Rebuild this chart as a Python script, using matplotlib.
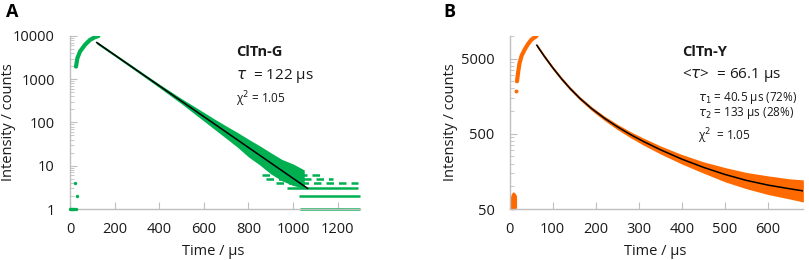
import matplotlib.pyplot as plt
from matplotlib.ticker import FixedLocator, LogLocator, NullFormatter, FuncFormatter

plt.rcParams['font.family'] = ['Open Sans', 'DejaVu Sans']

GREEN = '#00b050'
ORANGE = '#ff6a00'
AXIS = '#bfbfbf'
TEXT = '#1a1a1a'

# ---- panel A : ClTn-G ----
# rising edge (excitation pulse)
rise_t_a = [27, 33, 45, 67, 90, 112, 127]
rise_c_a = [1950, 3030, 4350, 6200, 8100, 9350, 9900]
# decay band, read as upper / lower envelope of the scatter
band_t_a = [120, 200, 300, 400, 500, 600, 650, 700, 750, 800, 850, 900, 950, 1000, 1050]
band_hi_a = [7500, 3900, 1730, 770, 355, 171, 118, 83, 59, 41, 29, 20, 14, 11, 8]
band_lo_a = [6500, 3400, 1480, 640, 270, 108, 68, 43, 27, 16, 10.5, 6.5, 4.5, 3.5, 3]
# integer count rows in the tail
row_c_a = [1, 2, 3, 4, 5, 6]
row_start_a = [1030, 1025, 972, 925, 880, 860]
row_end_a = [1300, 1300, 1290, 1290, 1180, 1120]
# stray points before the pulse
pre_t_a = [0, 5, 10, 15, 20, 25, 22, 30]
pre_c_a = [1, 1, 1, 1, 1, 1, 4, 2]
# single exponential fit
fit_t_a = [120, 1065]
fit_c_a = [7000, 3]

# ---- panel B : ClTn-Y ----
rise_t_b = [17, 20, 23, 28, 35, 42, 50, 57, 62]
rise_c_b = [2490, 3400, 4370, 5500, 6610, 7700, 8850, 9500, 9900]
stray_t_b = [15]
stray_c_b = [1830]
pre_t_b = [1, 4, 8, 12, 16]
pre_lo_b = [52, 49, 49, 50, 52]
pre_hi_b = [70, 80, 85, 82, 75]
fit_t_b = [63, 80, 100, 120, 140, 163, 190, 220, 250, 280, 310, 350, 400, 450, 500, 550, 600, 650, 682]
fit_c_b = [7500, 5400, 3770, 2710, 2010, 1480, 1085, 805, 620, 490, 397, 307, 230, 179, 144, 120, 104, 93, 87]
band_hi_b = [7900, 5700, 3980, 2860, 2120, 1560, 1150, 860, 670, 535, 440, 345, 265, 212, 178, 153, 138, 126, 122]
band_lo_b = [7100, 5100, 3570, 2560, 1900, 1400, 1020, 750, 570, 445, 355, 270, 198, 150, 115, 93, 78, 68, 62]

fig = plt.figure(figsize=(8.09, 2.6), dpi=100)
ax1 = fig.add_axes([0.0865, 0.196, 0.3585, 0.666])
ax2 = fig.add_axes([0.630, 0.196, 0.3625, 0.666])


def style(ax):
    for s in ['top', 'right']:
        ax.spines[s].set_visible(False)
    for s in ['left', 'bottom']:
        ax.spines[s].set_color(AXIS)
        ax.spines[s].set_linewidth(1.0)
    ax.tick_params(which='both', direction='in', color=AXIS, labelcolor=TEXT, labelsize=10.5)
    ax.tick_params(axis='x', which='major', length=5, pad=9)
    ax.tick_params(axis='y', which='major', length=5, pad=11)
    ax.tick_params(axis='y', which='minor', length=3)
    ax.set_xlabel('Time / μs', fontsize=10.5, color=TEXT)
    ax.set_ylabel('Intensity / counts', fontsize=10.5, color=TEXT)
    ax.yaxis.set_major_formatter(FuncFormatter(lambda v, p: f'{v:.0f}'))
    ax.yaxis.set_minor_formatter(NullFormatter())


# panel A
ax1.set_yscale('log')
ax1.fill_between(band_t_a, band_lo_a, band_hi_a, color=GREEN, lw=0, zorder=2)
ax1.plot(rise_t_a, rise_c_a, color=GREEN, lw=3, solid_capstyle='round', zorder=2)
for c, t0, t1 in zip(row_c_a, row_start_a, row_end_a):
    ls = '-' if c <= 3 else (0, (3, 2))
    ax1.hlines(c, t0, t1, color=GREEN, lw=1.8, linestyles=ls, zorder=2, clip_on=False)
ax1.scatter(pre_t_a, pre_c_a, s=6, color=GREEN, lw=0, zorder=3, clip_on=False)
ax1.plot(fit_t_a, fit_c_a, color='black', lw=1.1, zorder=4)
ax1.set_xlim(0, 1300)
ax1.set_ylim(1, 10000)
ax1.xaxis.set_major_locator(FixedLocator([0, 200, 400, 600, 800, 1000, 1200]))
ax1.yaxis.set_major_locator(FixedLocator([1, 10, 100, 1000, 10000]))
ax1.yaxis.set_minor_locator(LogLocator(base=10, subs=range(2, 10)))
style(ax1)
ax1.xaxis.set_label_coords(0.495, -0.20)
ax1.yaxis.set_label_coords(-0.186, 0.5)

fig.text(236 / 809, 1 - 52 / 260, 'ClTn-G', fontsize=10.5, fontweight='bold', color=TEXT, va='center')
fig.text(236 / 809, 1 - 76 / 260, r'$\tau$  = 122 μs', fontsize=11, color=TEXT, va='center')
fig.text(236 / 809, 1 - 99 / 260, 'χ$^2$ = 1.05', fontsize=8.5, color=TEXT, va='center')

# panel B
ax2.set_yscale('log')
ax2.fill_between(fit_t_b, band_lo_b, band_hi_b, color=ORANGE, lw=0, zorder=2)
ax2.fill_between(pre_t_b, pre_lo_b, pre_hi_b, color=ORANGE, lw=0, zorder=2, clip_on=False)
ax2.plot(rise_t_b, rise_c_b, color=ORANGE, lw=3, solid_capstyle='round', zorder=2)
ax2.scatter(stray_t_b, stray_c_b, s=8, color=ORANGE, lw=0, zorder=3)
ax2.plot(fit_t_b, fit_c_b, color='black', lw=1.1, zorder=4)
ax2.set_xlim(0, 681)
ax2.set_ylim(50, 10000)
ax2.xaxis.set_major_locator(FixedLocator([0, 100, 200, 300, 400, 500, 600]))
ax2.yaxis.set_major_locator(FixedLocator([50, 500, 5000]))
ax2.yaxis.set_minor_locator(LogLocator(base=10, subs=[1, 1.5, 2, 2.5, 3, 3.5, 4, 4.5]))
style(ax2)
ax2.xaxis.set_label_coords(0.495, -0.20)
ax2.yaxis.set_label_coords(-0.177, 0.5)

fig.text(682 / 809, 1 - 52 / 260, 'ClTn-Y', fontsize=10.5, fontweight='bold', color=TEXT, va='center')
fig.text(682 / 809, 1 - 75 / 260, r'<$\tau$>  = 66.1 μs', fontsize=11, color=TEXT, va='center')
fig.text(698 / 809, 1 - 98 / 260, r'$\tau_1$ = 40.5 μs (72%)', fontsize=8.5, color=TEXT, va='center')
fig.text(698 / 809, 1 - 113 / 260, r'$\tau_2$ = 133 μs (28%)', fontsize=8.5, color=TEXT, va='center')
fig.text(698 / 809, 1 - 136 / 260, 'χ$^2$  = 1.05', fontsize=8.5, color=TEXT, va='center')

fig.text(12 / 809, 1 - 12 / 260, 'A', fontsize=13, fontweight='bold', color='black', ha='center', va='center')
fig.text(449 / 809, 1 - 12 / 260, 'B', fontsize=13, fontweight='bold', color='black', ha='center', va='center')

fig.savefig('out.png', dpi=100)
